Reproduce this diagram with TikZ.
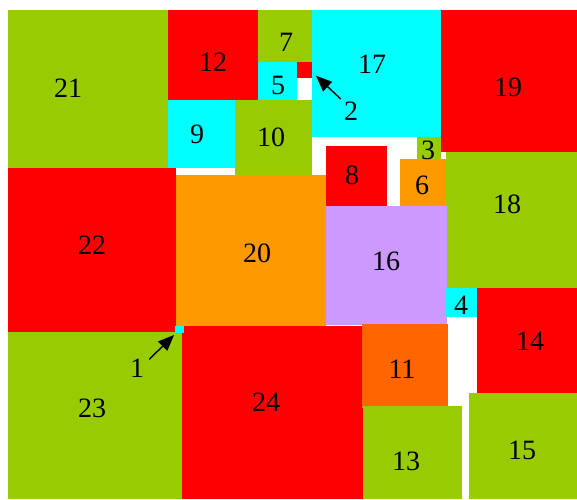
\documentclass[tikz,border=0pt]{standalone}
\usepackage{fontspec}
\setmainfont{Liberation Serif}
\usetikzlibrary{arrows.meta}
\definecolor{cgreen}{HTML}{99CC00}
\definecolor{cred}{HTML}{FF0000}
\definecolor{ccyan}{HTML}{00FFFF}
\definecolor{corange}{HTML}{FF9900}
\definecolor{cdorange}{HTML}{FF6600}
\definecolor{clav}{HTML}{CC99FF}
\tikzset{
  lbl/.style={inner sep=0pt, font=\fontsize{28}{28}\selectfont},
  ptr/.style={-{Triangle[length=16pt,width=13pt]}, line width=1.4pt, black},
}
\begin{document}
\begin{tikzpicture}[x=1pt,y=-1pt]
\useasboundingbox (0,0) rectangle (577,499);
\fill[white] (0,0) rectangle (577,499);
% rectangles
\fill[cgreen] (8,10) rectangle (168,168);          % 21
\fill[cred] (168,10) rectangle (258,99.5);         % 12
\fill[cgreen] (258,10) rectangle (312,62);         % 7
\fill[ccyan] (258,62) rectangle (297,101);         % 5
\fill[cred] (297,62) rectangle (312,78);           % 2
\fill[ccyan] (168,99.5) rectangle (235,168);       % 9
\fill[cgreen] (235,99.5) rectangle (312,175);      % 10
\fill[ccyan] (312,10) rectangle (441,137);         % 17
\fill[cred] (441,10) rectangle (577,152);          % 19
\fill[cgreen] (417,137) rectangle (441,158.5);     % 3
\fill[cgreen] (446,152) rectangle (577,288);       % 18
\fill[corange] (400,158.5) rectangle (446,206);    % 6
\fill[cred] (325.7,145.7) rectangle (386.7,206);   % 8
\fill[clav] (325.7,206) rectangle (447,325);       % 16
\fill[ccyan] (446,288) rectangle (477.3,317.3);    % 4
\fill[cred] (477.3,288) rectangle (577,393);       % 14
\fill[corange] (175.3,175) rectangle (325.7,325.7);% 20
\fill[cred] (8,168) rectangle (175.5,332.3);       % 22
\fill[cgreen] (8,332.3) rectangle (181.5,499);     % 23
\fill[cred] (181.5,325.7) rectangle (363.3,499);   % 24
\fill[ccyan] (175.3,325.7) rectangle (184,332.7);  % 1
\fill[cdorange] (362,324.3) rectangle (447.7,407.7);% 11
\fill[cgreen] (363.3,406) rectangle (462.3,499);   % 13
\fill[cgreen] (469.3,393) rectangle (577,499);     % 15
% labels
\node[lbl] (l21) at (68,88) {21};
\node[lbl] (l12) at (213,62) {12};
\node[lbl] (l7) at (286,42) {7};
\node[lbl] (l5) at (278,85) {5};
\node[lbl] (l17) at (372,64) {17};
\node[lbl] (l2) at (351,111) {2};
\node[lbl] (l19) at (508,87) {19};
\node[lbl] (l9) at (197,134) {9};
\node[lbl] (l10) at (271,137) {10};
\node[lbl] (l3) at (428,150) {3};
\node[lbl] (l8) at (352,175) {8};
\node[lbl] (l6) at (422,185) {6};
\node[lbl] (l18) at (507,204) {18};
\node[lbl] (l22) at (92,245) {22};
\node[lbl] (l20) at (257,253) {20};
\node[lbl] (l16) at (386,261) {16};
\node[lbl] (l4) at (461,305) {4};
\node[lbl] (l14) at (530,341) {14};
\node[lbl] (l1) at (137,368) {1};
\node[lbl] (l11) at (402,369) {11};
\node[lbl] (l23) at (92,408) {23};
\node[lbl] (l24) at (266,402) {24};
\node[lbl] (l13) at (406,461) {13};
\node[lbl] (l15) at (522,450) {15};
% arrows
\coordinate (a1s) at (149.3,359.3);
\coordinate (a1e) at (174,335);
\coordinate (a2s) at (340.7,99);
\coordinate (a2e) at (316,75.7);
\draw[ptr] (a1s) -- (a1e);
\draw[ptr] (a2s) -- (a2e);
\end{tikzpicture}
\end{document}
